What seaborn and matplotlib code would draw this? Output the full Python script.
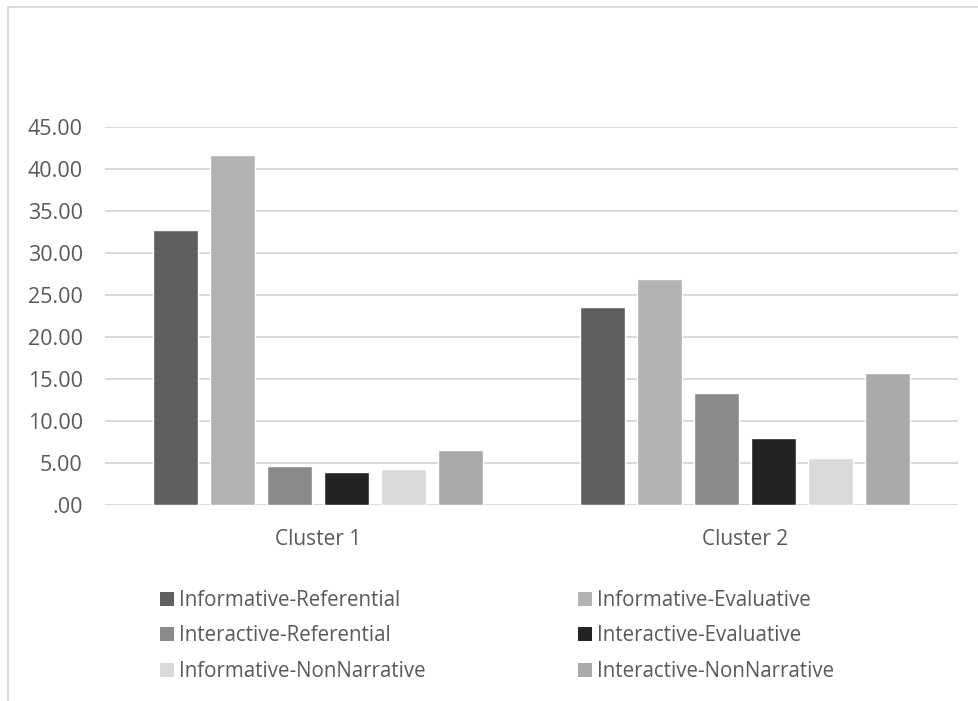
import matplotlib
matplotlib.use("Agg")
import matplotlib.pyplot as plt
from matplotlib.patches import Rectangle, Patch
from matplotlib.ticker import FuncFormatter, MultipleLocator
import pandas as pd
import seaborn as sns

clusters = ["Cluster 1", "Cluster 2"]
series = [
    "Informative-Referential",
    "Informative-Evaluative",
    "Interactive-Referential",
    "Interactive-Evaluative",
    "Informative-NonNarrative",
    "Interactive-NonNarrative",
]
cluster1 = [32.77, 41.67, 4.72, 3.93, 4.36, 6.58]
cluster2 = [23.57, 26.94, 13.40, 8.01, 5.63, 15.71]
colors = ["#5f5f5f", "#b2b2b2", "#8a8a8a", "#232323", "#d9d9d9", "#aaaaaa"]

rows = []
for name, a, b in zip(series, cluster1, cluster2):
    rows.append({"cluster": clusters[0], "type": name, "value": a})
    rows.append({"cluster": clusters[1], "type": name, "value": b})
df = pd.DataFrame(rows)

sns.set_theme(style="white")
plt.rcParams["font.family"] = ["Open Sans", "DejaVu Sans"]
text_color = "#595959"
grid_color = "#d9d9d9"

W, H = 979, 701
fig = plt.figure(figsize=(W / 100, H / 100), dpi=100)
ax = fig.add_axes([105 / W, 1 - 505.3 / H, (958 - 105) / W, (505.3 - 127.3) / H])

sns.barplot(
    data=df, x="cluster", y="value", hue="type",
    order=clusters, hue_order=series, palette=colors,
    width=0.802, gap=0.21, errorbar=None, legend=False,
    saturation=1, ax=ax, zorder=3,
)

ax.set_ylim(0, 45)
ax.set_xlim(-0.5, 1.5)
ax.yaxis.set_major_locator(MultipleLocator(5))
ax.yaxis.set_major_formatter(FuncFormatter(lambda v, p: f"{v:.2f}".lstrip("0") if v < 1 else f"{v:.2f}"))
ax.grid(axis="y", color=grid_color, linewidth=1.4, zorder=0)
ax.set_axisbelow(True)
for s in ax.spines.values():
    s.set_visible(False)
ax.set_xlabel("")
ax.set_ylabel("")
ax.tick_params(axis="y", length=0, pad=16, labelsize=15.5, labelcolor=text_color)
ax.tick_params(axis="x", length=0, pad=17, labelsize=15, labelcolor=text_color)

# chart frame
fig.patches.append(Rectangle((8 / W, -0.1), 1.2, 1 - 7 / H + 0.1, transform=fig.transFigure,
                             fill=False, edgecolor=grid_color, linewidth=1.3))

# legend: two columns of three entries
legend_kw = dict(loc="upper left", frameon=False, fontsize=14.8, labelcolor=text_color,
                 handlelength=0.68, handleheight=0.68, handletextpad=0.25,
                 labelspacing=0.70, borderpad=0, borderaxespad=0)
for col, x_px in ((0, 160), (1, 578)):
    idx = [col, col + 2, col + 4]
    handles = [Patch(facecolor=colors[i], edgecolor="none") for i in idx]
    fig.legend(handles, [series[i] for i in idx],
               bbox_to_anchor=(x_px / W, 1 - 590 / H), **legend_kw)

fig.savefig("out.png", dpi=100)
